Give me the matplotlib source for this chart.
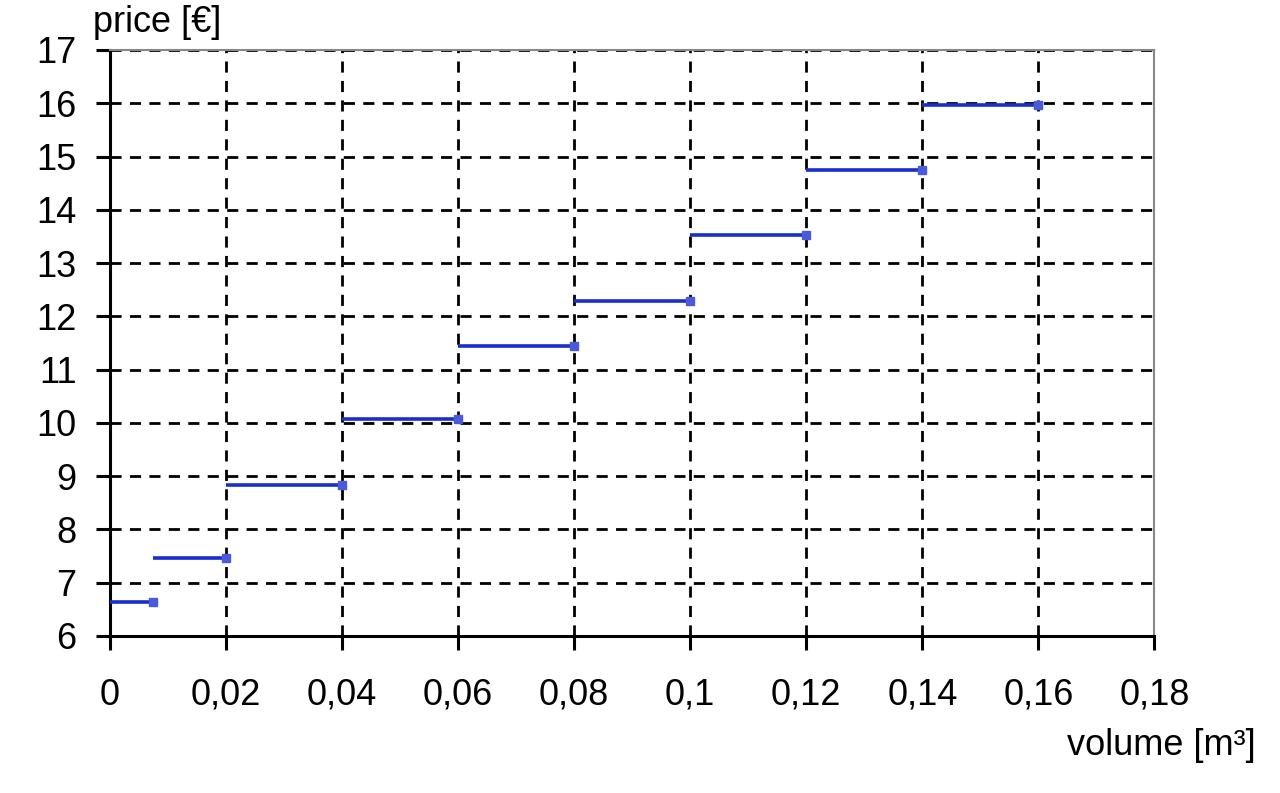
import matplotlib
matplotlib.use("Agg")
import matplotlib.pyplot as plt
from matplotlib.ticker import FuncFormatter

# datos del escalon de precios
vol_inicio = [0, 0.0075, 0.02, 0.04, 0.06, 0.08, 0.10, 0.12, 0.14]
vol_fin = [0.0075, 0.02, 0.04, 0.06, 0.08, 0.10, 0.12, 0.14, 0.16]
precio = [6.63, 7.46, 8.84, 10.07, 11.44, 12.28, 13.52, 14.75, 15.97]

x_ticks = [0, 0.02, 0.04, 0.06, 0.08, 0.1, 0.12, 0.14, 0.16, 0.18]
y_ticks = list(range(6, 18))

plt.rcParams['font.family'] = ['Liberation Sans', 'DejaVu Sans']

fig = plt.figure(figsize=(12.8, 7.93), dpi=100)
ax = fig.add_axes([0.0859, 0.198, 0.816, 0.739])

ax.set_xlim(0, 0.18)
ax.set_ylim(6, 17)
ax.set_xticks(x_ticks)
ax.set_yticks(y_ticks)
ax.xaxis.set_major_formatter(FuncFormatter(lambda v, p: f"{v:g}".replace(".", ",")))

ax.grid(True, color="black", linestyle=(0, (4, 3)), linewidth=2)
ax.set_axisbelow(True)

ax.hlines(precio, vol_inicio, vol_fin, color="#1a2ed0", linewidth=2.6, zorder=3)
ax.plot(vol_fin, precio, linestyle="none", marker="s", markersize=6,
        color="#4a5ad8", zorder=4)

for lado in ["left", "bottom"]:
    ax.spines[lado].set_color("black")
    ax.spines[lado].set_linewidth(2.2)
for lado in ["top", "right"]:
    ax.spines[lado].set_color("#888888")
    ax.spines[lado].set_linewidth(1.5)

ax.tick_params(axis="both", direction="out", length=10, width=2.2,
               labelsize=26, colors="black")
ax.tick_params(axis="x", pad=20)
ax.tick_params(axis="y", pad=14)

fig.text(0.073, 0.972, "price [€]", fontsize=26, ha="left", va="center")
fig.text(0.981, 0.06, "volume [m³]", fontsize=26, ha="right", va="center")

fig.savefig("out.png", dpi=100)
